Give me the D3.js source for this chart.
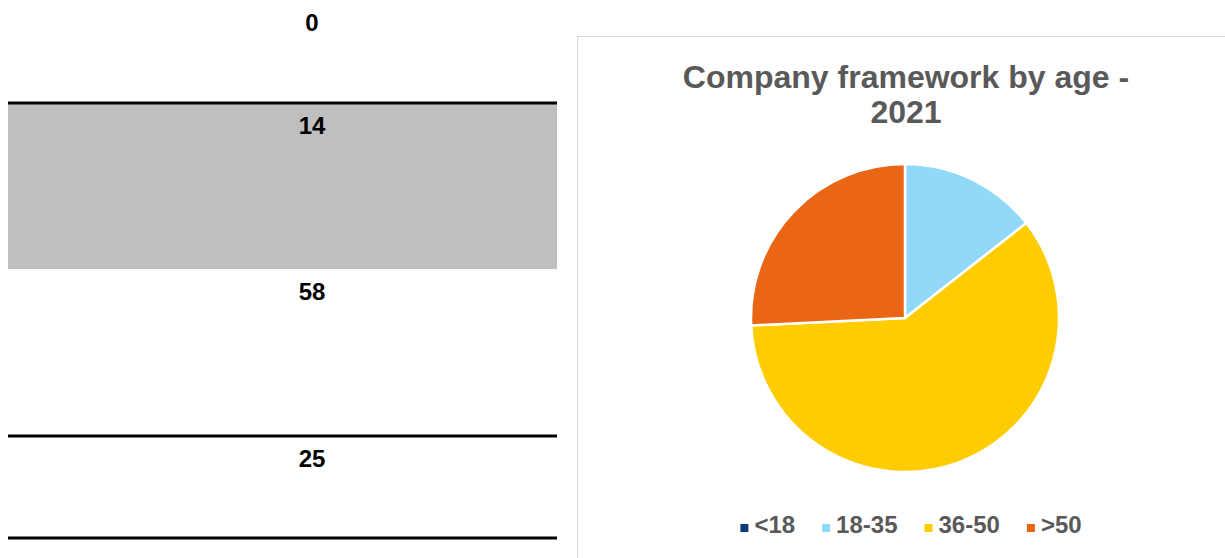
<!DOCTYPE html>
<html>
<head>
<meta charset="utf-8">
<script src="https://cdn.jsdelivr.net/npm/d3@7"></script>
<style>
  html, body { margin: 0; padding: 0; background: #fff; }
  svg { display: block; }
</style>
</head>
<body>
<div id="vis"></div>
<script>
// data
let ageGroups = ['<18', '18-35', '36-50', '>50'];
let ageCounts = [0, 14, 58, 25];
let ageColors = ['#0d3b7c', '#91d9f8', '#ffcc00', '#ea6614'];
let chartTitle = ['Company framework by age -', '2021'];

const width = 1225, height = 558;

let svg = d3.select('#vis').append('svg')
    .attr('width', width)
    .attr('height', height);

// left side: worksheet cells holding the values
let rowEdges = [0, 103, 269, 436, 538];
let cellX = d3.scaleLinear().domain([0, 1]).range([8, 557]);

let cells = svg.append('g');

cells.append('rect')
    .attr('x', cellX(0))
    .attr('y', rowEdges[1] + 1)
    .attr('width', cellX(1) - cellX(0))
    .attr('height', rowEdges[2] - rowEdges[1] - 1)
    .attr('fill', '#bfbfbf');

[1, 3, 4].forEach(i => {
    cells.append('line')
        .attr('x1', cellX(0)).attr('x2', cellX(1))
        .attr('y1', rowEdges[i]).attr('y2', rowEdges[i])
        .attr('stroke', '#000')
        .attr('stroke-width', 3);
});

cells.selectAll('text.val')
    .data(ageCounts)
    .join('text')
    .attr('class', 'val')
    .attr('x', 312)
    .attr('y', (d, i) => rowEdges[i] + 31)
    .attr('text-anchor', 'middle')
    .style('font-family', '"Liberation Sans", Arial, sans-serif')
    .style('font-weight', 'bold')
    .style('font-size', '24px')
    .attr('fill', '#000')
    .text(d => d);

// right side: chart area
svg.append('rect')
    .attr('x', 577.5)
    .attr('y', 36.5)
    .attr('width', 700)
    .attr('height', 600)
    .attr('fill', '#fff')
    .attr('stroke', '#d9d9d9')
    .attr('stroke-width', 1);

svg.append('g').selectAll('text')
    .data(chartTitle)
    .join('text')
    .attr('x', 906)
    .attr('y', (d, i) => 88 + i * 35)
    .attr('text-anchor', 'middle')
    .style('font-family', '"Liberation Sans", Arial, sans-serif')
    .style('font-weight', 'bold')
    .style('font-size', '32px')
    .attr('fill', '#595959')
    .text(d => d);

// pie
const cx = 905, cy = 318, radius = 154;

let pie = d3.pie().sort(null).value(d => d)(ageCounts);
let arc = d3.arc().innerRadius(0).outerRadius(radius);
let color = d3.scaleOrdinal().domain(ageGroups).range(ageColors);

svg.append('g')
    .attr('transform', `translate(${cx},${cy})`)
    .selectAll('path')
    .data(pie)
    .join('path')
    .attr('d', arc)
    .attr('fill', (d, i) => color(ageGroups[i]))
    .attr('stroke', '#fff')
    .attr('stroke-width', 2.5)
    .attr('stroke-linejoin', 'round');

// legend
let legend = svg.append('g');
let items = legend.selectAll('g')
    .data(ageGroups)
    .join('g');

items.append('rect')
    .attr('width', 8)
    .attr('height', 8)
    .attr('y', -9)
    .attr('fill', d => color(d));

items.append('text')
    .attr('x', 14)
    .attr('y', 0)
    .style('font-family', '"Liberation Sans", Arial, sans-serif')
    .style('font-weight', 'bold')
    .style('font-size', '24px')
    .attr('fill', '#595959')
    .text(d => d);

let xPos = 0;
let offsets = [];
items.each(function () {
    offsets.push(xPos);
    let w = 14 + d3.select(this).select('text').node().getComputedTextLength();
    xPos += w + 27;
});
let total = xPos - 27;
items.attr('transform', (d, i) => `translate(${offsets[i]},0)`);
legend.attr('transform', `translate(${911 - total / 2},533)`);
</script>
</body>
</html>
